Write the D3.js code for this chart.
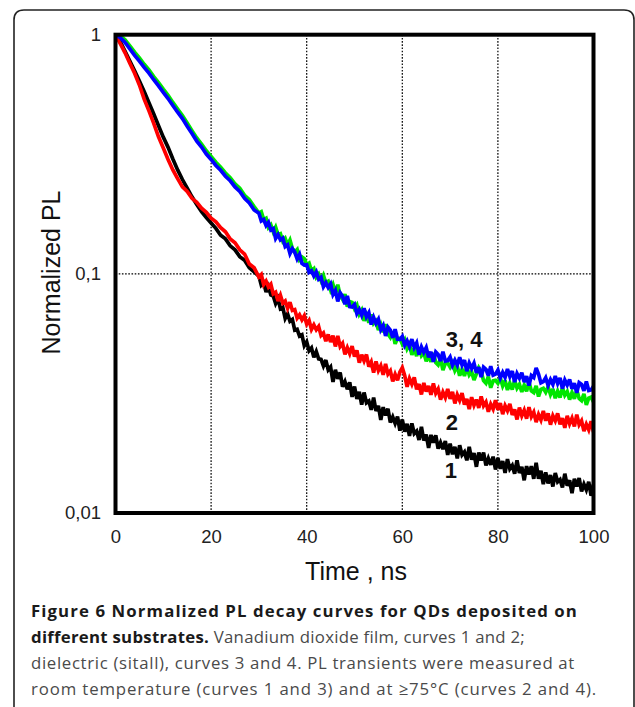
<!DOCTYPE html>
<html>
<head>
<meta charset="utf-8">
<script src="https://cdn.jsdelivr.net/npm/d3@7"></script>
<style>
  body { margin: 0; background: #fff; }
  svg { display: block; }
</style>
</head>
<body>
<svg id="chart" width="635" height="707"></svg>
<script>
// sample times, ns: every 1 ns up to 29, then every 0.5 ns to 100
var timeNs = d3.range(0, 30, 1).concat(d3.range(30, 100.5, 0.5));

// curve 1: VO2 film, room temperature (black)
var curve1 = [1.0, 0.935, 0.852, 0.775, 0.706, 0.64, 0.578, 0.52, 0.466, 0.416,
  0.373, 0.338, 0.302, 0.272, 0.248, 0.228, 0.21, 0.195, 0.182, 0.172,
  0.163, 0.155, 0.145, 0.14, 0.131, 0.126, 0.118, 0.114, 0.106, 0.102,
  0.0979, 0.0897, 0.0918, 0.084, 0.0884, 0.0817, 0.0808, 0.0752, 0.0788, 0.0715,
  0.0724, 0.0651, 0.068, 0.0634, 0.0645, 0.0582, 0.0586, 0.0549, 0.0556, 0.0501,
  0.052, 0.0477, 0.049, 0.0448, 0.0473, 0.0441, 0.0439, 0.0412, 0.0436, 0.0397,
  0.0408, 0.0353, 0.0397, 0.0364, 0.0387, 0.0337, 0.0354, 0.0329, 0.0352, 0.0306,
  0.0338, 0.03, 0.0321, 0.0284, 0.0319, 0.0289, 0.0294, 0.027, 0.0304, 0.0267,
  0.0281, 0.0245, 0.0277, 0.0256, 0.0273, 0.0239, 0.0252, 0.0237, 0.0253, 0.0221,
  0.0246, 0.0219, 0.0236, 0.021, 0.0237, 0.0215, 0.022, 0.0202, 0.0229, 0.0201,
  0.0213, 0.0187, 0.0212, 0.0197, 0.0211, 0.0186, 0.0197, 0.0185, 0.02, 0.0175,
  0.0195, 0.0176, 0.0189, 0.0169, 0.0192, 0.0175, 0.018, 0.0166, 0.0189, 0.0167,
  0.0178, 0.0156, 0.0179, 0.0166, 0.0179, 0.0158, 0.0169, 0.0159, 0.0172, 0.0152,
  0.017, 0.0153, 0.0165, 0.0147, 0.0168, 0.0153, 0.0158, 0.0146, 0.0166, 0.0147,
  0.0156, 0.0137, 0.0157, 0.0145, 0.0157, 0.0139, 0.0162, 0.0139, 0.015, 0.0132,
  0.0148, 0.0133, 0.0144, 0.0129, 0.0147, 0.0135, 0.0138, 0.0128, 0.0146, 0.013,
  0.0137, 0.0121, 0.0139, 0.0129, 0.014, 0.0123, 0.0132, 0.0125, 0.0135, 0.0118,
  0.0132];

// curve 2: VO2 film, >=75 C (red)
var curve2 = [1.0, 0.918, 0.84, 0.76, 0.69, 0.616, 0.538, 0.48, 0.426, 0.374,
  0.336, 0.301, 0.272, 0.25, 0.231, 0.221, 0.207, 0.199, 0.188, 0.181,
  0.171, 0.165, 0.156, 0.15, 0.14, 0.135, 0.126, 0.121, 0.11, 0.106,
  0.097, 0.0994, 0.0902, 0.0933, 0.0881, 0.0905, 0.0825, 0.0838, 0.077, 0.0814,
  0.0755, 0.077, 0.0718, 0.0761, 0.0703, 0.0709, 0.0653, 0.0674, 0.0642, 0.0668,
  0.0617, 0.0639, 0.0586, 0.0612, 0.0584, 0.0603, 0.0553, 0.0566, 0.0523, 0.0558,
  0.0519, 0.0551, 0.0497, 0.055, 0.0497, 0.0512, 0.0461, 0.0491, 0.0464, 0.0499,
  0.0451, 0.0479, 0.0425, 0.0459, 0.0433, 0.046, 0.0409, 0.0428, 0.0386, 0.043,
  0.0394, 0.0413, 0.0378, 0.042, 0.0381, 0.0393, 0.0355, 0.038, 0.0359, 0.0389,
  0.0405, 0.0376, 0.0337, 0.0365, 0.0346, 0.0369, 0.0329, 0.0346, 0.0313, 0.035,
  0.0322, 0.034, 0.0312, 0.0348, 0.0317, 0.033, 0.0298, 0.032, 0.0304, 0.033,
  0.03, 0.0321, 0.0287, 0.0312, 0.0296, 0.0317, 0.0284, 0.03, 0.0272, 0.0305,
  0.0282, 0.0298, 0.0275, 0.0307, 0.0281, 0.0291, 0.0265, 0.0285, 0.0272, 0.0296,
  0.027, 0.0288, 0.0259, 0.0281, 0.0268, 0.0286, 0.0257, 0.0271, 0.0246, 0.0276,
  0.0255, 0.0269, 0.0248, 0.0277, 0.0253, 0.0264, 0.024, 0.0258, 0.0245, 0.0267,
  0.0243, 0.0261, 0.0234, 0.0255, 0.0243, 0.0261, 0.0235, 0.0249, 0.0227, 0.0255,
  0.0236, 0.0249, 0.023, 0.0258, 0.0234, 0.0243, 0.022, 0.0235, 0.0223, 0.0242,
  0.0218];

// curve 3: dielectric, room temperature (green)
var curve3 = [1.0, 0.99, 0.952, 0.897, 0.845, 0.8, 0.752, 0.712, 0.668, 0.63,
  0.592, 0.558, 0.521, 0.489, 0.459, 0.427, 0.397, 0.37, 0.349, 0.327,
  0.31, 0.293, 0.279, 0.264, 0.252, 0.238, 0.228, 0.213, 0.204, 0.191,
  0.1795, 0.1819, 0.1686, 0.1707, 0.1562, 0.1602, 0.1499, 0.1569, 0.1458, 0.1471,
  0.1369, 0.1408, 0.1322, 0.1384, 0.1275, 0.1232, 0.1263, 0.1147, 0.1176, 0.1156,
  0.1091, 0.1108, 0.103, 0.1051, 0.0969, 0.0999, 0.0939, 0.0986, 0.0918, 0.093,
  0.0858, 0.0903, 0.0836, 0.0901, 0.0813, 0.0783, 0.0822, 0.0729, 0.0766, 0.076,
  0.0715, 0.0741, 0.0678, 0.0705, 0.0636, 0.0672, 0.0625, 0.0676, 0.062, 0.0635,
  0.0582, 0.0614, 0.057, 0.0616, 0.056, 0.0542, 0.0572, 0.051, 0.0538, 0.0538,
  0.0509, 0.053, 0.0486, 0.0507, 0.0459, 0.0487, 0.0453, 0.0492, 0.0455, 0.0468,
  0.0431, 0.0456, 0.0429, 0.0467, 0.0426, 0.0416, 0.0442, 0.0396, 0.0422, 0.0424,
  0.0407, 0.0425, 0.0394, 0.0412, 0.0375, 0.0399, 0.0374, 0.0408, 0.0378, 0.039,
  0.036, 0.0382, 0.0405, 0.039, 0.0358, 0.0349, 0.0372, 0.0334, 0.0357, 0.0359,
  0.0349, 0.0367, 0.034, 0.0358, 0.0327, 0.0349, 0.0328, 0.0359, 0.0333, 0.0345,
  0.0321, 0.0342, 0.0323, 0.0353, 0.0324, 0.0319, 0.034, 0.0307, 0.0329, 0.0332,
  0.032, 0.0337, 0.0313, 0.033, 0.0302, 0.0323, 0.0304, 0.0334, 0.0311, 0.0322,
  0.0298, 0.0319, 0.03, 0.0327, 0.0301, 0.0295, 0.0315, 0.0283, 0.0302, 0.0305,
  0.0291];

// curve 4: dielectric, >=75 C (blue)
var curve4 = [1.0, 0.972, 0.928, 0.872, 0.82, 0.776, 0.73, 0.691, 0.648, 0.611,
  0.574, 0.541, 0.506, 0.474, 0.446, 0.414, 0.386, 0.359, 0.339, 0.317,
  0.301, 0.284, 0.271, 0.256, 0.245, 0.231, 0.221, 0.207, 0.198, 0.185,
  0.1795, 0.1664, 0.1687, 0.1593, 0.1643, 0.1525, 0.1545, 0.1406, 0.1459, 0.1386,
  0.1411, 0.13, 0.1323, 0.1216, 0.1275, 0.1232, 0.1154, 0.1206, 0.1107, 0.1089,
  0.1091, 0.1014, 0.103, 0.098, 0.1019, 0.095, 0.0968, 0.0883, 0.0918, 0.0876,
  0.0907, 0.0819, 0.0852, 0.0767, 0.0833, 0.0806, 0.0747, 0.0808, 0.0729, 0.0727,
  0.0745, 0.0682, 0.071, 0.0671, 0.0718, 0.0661, 0.0688, 0.0614, 0.0658, 0.0621,
  0.0646, 0.0584, 0.0608, 0.055, 0.0598, 0.0581, 0.0541, 0.0587, 0.0533, 0.0532,
  0.0547, 0.0503, 0.0525, 0.0497, 0.0533, 0.0492, 0.0514, 0.046, 0.0495, 0.047,
  0.0492, 0.0448, 0.0472, 0.0429, 0.0471, 0.046, 0.0432, 0.0472, 0.0432, 0.0434,
  0.0449, 0.0415, 0.0436, 0.0415, 0.0448, 0.0415, 0.0436, 0.0392, 0.0424, 0.0403,
  0.0423, 0.0386, 0.0407, 0.037, 0.0407, 0.0399, 0.0375, 0.0411, 0.0377, 0.0381,
  0.0396, 0.0367, 0.0387, 0.0369, 0.04, 0.0372, 0.0392, 0.0353, 0.0383, 0.0366,
  0.0386, 0.0353, 0.0373, 0.0341, 0.0376, 0.0369, 0.0404, 0.0381, 0.035, 0.0354,
  0.0368, 0.0342, 0.0361, 0.0345, 0.0374, 0.0348, 0.0367, 0.0331, 0.036, 0.0343,
  0.0362, 0.0331, 0.0349, 0.0318, 0.0351, 0.0345, 0.0324, 0.0355, 0.0325, 0.0327,
  0.0339];

var seriesColors = ['#000000', '#ff0000', '#00e600', '#0000ff'];

var xTicks = [0, 20, 40, 60, 80, 100];
var yTicks = [1, 0.1, 0.01];
var yTickLabels = ['1', '0,1', '0,01'];

var curveLabels = ['1', '2', '3, 4'];
var labelTimes = [68.9, 69.1, 69.1];
var labelValues = [0.014, 0.0222, 0.0493];

var captionLines = [
  [['Figure 6 Normalized PL decay curves for QDs deposited on', true]],
  [['different substrates.', true], [' Vanadium dioxide film, curves 1 and 2;', false]],
  [['dielectric (sitall), curves 3 and 4. PL transients were measured at', false]],
  [['room temperature (curves 1 and 3) and at \u226575\u00b0C (curves 2 and 4).', false]]
];

// layout
var svg = d3.select('#chart'),
  plotLeft = 115.5, plotRight = 593.5, plotTop = 34.7, plotBottom = 513,
  tickFont = '"Liberation Sans", Arial, sans-serif';

// outer figure border (rounded, open at the bottom)
svg.append('path')
  .attr('d', 'M14,720 L14,20 Q14,10 24,10 L624,10 Q634,10 634,20 L634,720')
  .attr('fill', 'none')
  .attr('stroke', '#222')
  .attr('stroke-width', 1.6);

var x = d3.scaleLinear().domain([0, 100]).range([plotLeft, plotRight]);
var y = d3.scaleLog().domain([0.01, 1]).range([plotBottom, plotTop]);

// dotted grid
svg.append('g')
  .selectAll('line')
  .data([20, 40, 60, 80])
  .enter()
  .append('line')
  .attr('x1', function(d) { return x(d); })
  .attr('x2', function(d) { return x(d); })
  .attr('y1', y(1))
  .attr('y2', y(0.01))
  .attr('stroke', '#000')
  .attr('stroke-width', 1.2)
  .attr('stroke-dasharray', '1.6,1.6');

svg.append('line')
  .attr('x1', x(0))
  .attr('x2', x(100))
  .attr('y1', y(0.1))
  .attr('y2', y(0.1))
  .attr('stroke', '#000')
  .attr('stroke-width', 1.2)
  .attr('stroke-dasharray', '1.6,1.6');

// curves
svg.append('clipPath')
  .attr('id', 'plotclip')
  .append('rect')
  .attr('x', plotLeft)
  .attr('y', plotTop)
  .attr('width', plotRight - plotLeft)
  .attr('height', plotBottom - plotTop);

var line = d3.line()
  .x(function(d) { return x(d[0]); })
  .y(function(d) { return y(d[1]); });

var allCurves = [curve1, curve2, curve3, curve4];
var curveGroup = svg.append('g').attr('clip-path', 'url(#plotclip)');

allCurves.forEach(function(vals, i) {
  curveGroup.append('path')
    .datum(timeNs.map(function(t, j) { return [t, vals[j]]; }))
    .attr('d', line)
    .attr('fill', 'none')
    .attr('stroke', seriesColors[i])
    .attr('stroke-width', 3.7)
    .attr('stroke-linejoin', 'miter')
    .attr('stroke-miterlimit', 3);
});

// plot frame
svg.append('rect')
  .attr('x', plotLeft)
  .attr('y', plotTop)
  .attr('width', plotRight - plotLeft)
  .attr('height', plotBottom - plotTop)
  .attr('fill', 'none')
  .attr('stroke', '#000')
  .attr('stroke-width', 4);

// axes (labels only)
var xAxis = svg.append('g')
  .attr('transform', 'translate(0,' + plotBottom + ')')
  .call(d3.axisBottom(x).tickValues(xTicks).tickSize(0).tickPadding(17).tickFormat(d3.format('d')));
xAxis.select('.domain').remove();
xAxis.selectAll('text')
  .style('font-family', tickFont)
  .style('font-size', '18.5px')
  .attr('fill', '#222');

var yAxis = svg.append('g')
  .attr('transform', 'translate(' + plotLeft + ',0)')
  .call(d3.axisLeft(y).tickValues(yTicks).tickSize(0).tickPadding(14.5)
    .tickFormat(function(d, i) { return yTickLabels[i]; }));
yAxis.select('.domain').remove();
yAxis.selectAll('text')
  .style('font-family', tickFont)
  .style('font-size', '18.5px')
  .attr('fill', '#222');

// axis titles
svg.append('text')
  .attr('x', (plotLeft + plotRight) / 2 + 1.5)
  .attr('y', 580)
  .attr('text-anchor', 'middle')
  .style('font-family', tickFont)
  .style('font-size', '25px')
  .attr('fill', '#111')
  .text('Time , ns');

svg.append('text')
  .attr('transform', 'translate(60,272.5) rotate(-90)')
  .attr('text-anchor', 'middle')
  .style('font-family', tickFont)
  .style('font-size', '25px')
  .attr('fill', '#111')
  .text('Normalized PL');

// curve numbers
svg.append('g')
  .selectAll('text')
  .data(curveLabels)
  .enter()
  .append('text')
  .attr('x', function(d, i) { return x(labelTimes[i]); })
  .attr('y', function(d, i) { return y(labelValues[i]); })
  .style('font-family', tickFont)
  .style('font-weight', 'bold')
  .style('font-size', '22px')
  .attr('fill', '#111')
  .text(function(d) { return d; });

// caption
var captionX = 31,
  captionY = [617, 643, 669, 695],
  captionEnd = [578, 525, 575, 597];

captionLines.forEach(function(parts, i) {
  var t = svg.append('text')
    .attr('x', captionX)
    .attr('y', captionY[i])
    .style('font-family', '"Open Sans", "Noto Sans", sans-serif')
    .style('font-size', '16.8px');
  parts.forEach(function(p) {
    t.append('tspan')
      .attr('font-weight', p[1] ? 'bold' : 'normal')
      .attr('fill', p[1] ? '#1a1a1a' : '#4a4a4a')
      .text(p[0]);
  });
  // squeeze spacing so the line ends where it does in the figure
  var len = t.node().getComputedTextLength(),
    n = t.text().length;
  t.attr('letter-spacing', ((captionEnd[i] - captionX) - len) / n);
});
</script>
</body>
</html>
